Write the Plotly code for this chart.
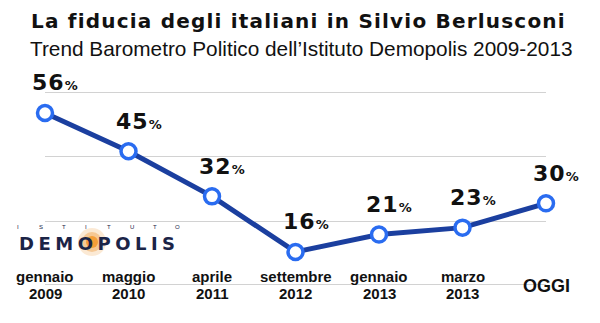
import plotly.graph_objects as go

# ---- data ----
periods = ["gennaio 2009", "maggio 2010", "aprile 2011", "settembre 2012",
           "gennaio 2013", "marzo 2013", "OGGI"]
month_labels = ["gennaio", "maggio", "aprile", "settembre", "gennaio", "marzo", ""]
year_labels = ["2009", "2010", "2011", "2012", "2013", "2013", ""]
fiducia = [56, 45, 32, 16, 21, 23, 30]

W, H = 600, 323
ML, MR, MT, MB = 45, 54, 83, 28
PH = H - MT - MB


def py(p):  # pixel y from top -> paper y
    return (H - MB - p) / PH


def px(p):  # pixel x from left -> paper x
    return (p - ML) / (W - ML - MR)


x = list(range(len(periods)))
y_lo, y_hi = 3.61, 64.63
grid_vals = [6.49, 24.91, 43.34, 61.76]

fig = go.Figure()
fig.add_trace(go.Scatter(
    x=x, y=fiducia, mode="lines+markers",
    line=dict(color="#1b3f9f", width=5),
    marker=dict(size=15, color="white", line=dict(color="#2a6cf0", width=3.5)),
    cliponaxis=False, hoverinfo="skip", showlegend=False,
))

ann = []
HEAVY = "DejaVu Sans"
# title / subtitle
ann.append(dict(text="<span style='letter-spacing:1.2px'>La fiducia degli italiani in Silvio Berlusconi</span>",
                xref="paper", yref="paper",
                x=px(298), y=py(21), xanchor="center", yanchor="middle", showarrow=False,
                font=dict(family=HEAVY, size=20, color="#111", weight="bold")))
ann.append(dict(text="Trend Barometro Politico dell’Istituto Demopolis 2009-2013", xref="paper",
                yref="paper", x=px(301), y=py(48), xanchor="center", yanchor="middle",
                showarrow=False, font=dict(family="Liberation Sans", size=20.8, color="#111")))

# value labels
for i, v in enumerate(fiducia):
    ann.append(dict(
        text=f"<span style='letter-spacing:1px'>{v}</span><span style='font-size:13px'>%</span>",
        x=i, y=v, xref="x", yref="y",
        xanchor="center", yanchor="middle", yshift=30, xshift=10, showarrow=False,
        font=dict(family=HEAVY, size=22, color="#111", weight="bold")))

# category labels
for i in range(len(periods)):
    if periods[i] == "OGGI":
        ann.append(dict(text="OGGI", x=i, y=0.0472, xref="x", yref="paper", xanchor="center",
                        yanchor="middle", yshift=-1, showarrow=False,
                        font=dict(family="Liberation Sans", size=18, color="#111", weight="bold")))
        continue
    ann.append(dict(text=month_labels[i], x=i, y=0.0472, xref="x", yref="paper", xanchor="center",
                    yanchor="middle", yshift=8, showarrow=False,
                    font=dict(family="Liberation Sans", size=15, color="#111", weight="bold")))
    ann.append(dict(text=year_labels[i], x=i, y=0.0472, xref="x", yref="paper", xanchor="center",
                    yanchor="middle", yshift=-9, showarrow=False,
                    font=dict(family="Liberation Sans", size=15, color="#111", weight="bold")))

# logo
shapes = []
cx, cy = 92, 242
for r, col in [(14, "rgba(240,175,100,0.28)"), (10, "rgba(240,160,70,0.45)"),
               (6, "rgba(245,150,40,0.85)")]:
    shapes.append(dict(type="circle", xref="paper", yref="paper", layer="below",
                       x0=px(cx - r), x1=px(cx + r), y0=py(cy + r), y1=py(cy - r),
                       fillcolor=col, line=dict(width=0)))

letters = list("ISTITUTO")
for k, ch in enumerate(letters):
    ann.append(dict(text=ch, xref="paper", yref="paper", x=px(18 + k * 22.8), y=py(226.5),
                    xanchor="center", yanchor="middle", showarrow=False,
                    font=dict(family="Liberation Sans", size=6, color="#1b2447")))
ann.append(dict(text="<span style='letter-spacing:4.5px'>DEMOPOLIS</span>", xref="paper",
                yref="paper", x=px(17), y=py(243),
                xanchor="left", yanchor="middle", showarrow=False,
                font=dict(family=HEAVY, size=18, color="#1b2447", weight="bold")))

fig.update_layout(
    width=W, height=H, margin=dict(l=ML, r=MR, t=MT, b=MB),
    paper_bgcolor="white", plot_bgcolor="white",
    xaxis=dict(range=[0, 6], showgrid=False, zeroline=False, showticklabels=False,
               showline=False, fixedrange=True),
    yaxis=dict(range=[y_lo, y_hi], tickvals=grid_vals, showticklabels=False,
               gridcolor="#d2d2d2", gridwidth=1, zeroline=False, showline=False,
               fixedrange=True),
    annotations=ann, shapes=shapes,
)

fig.write_html("out.html")
